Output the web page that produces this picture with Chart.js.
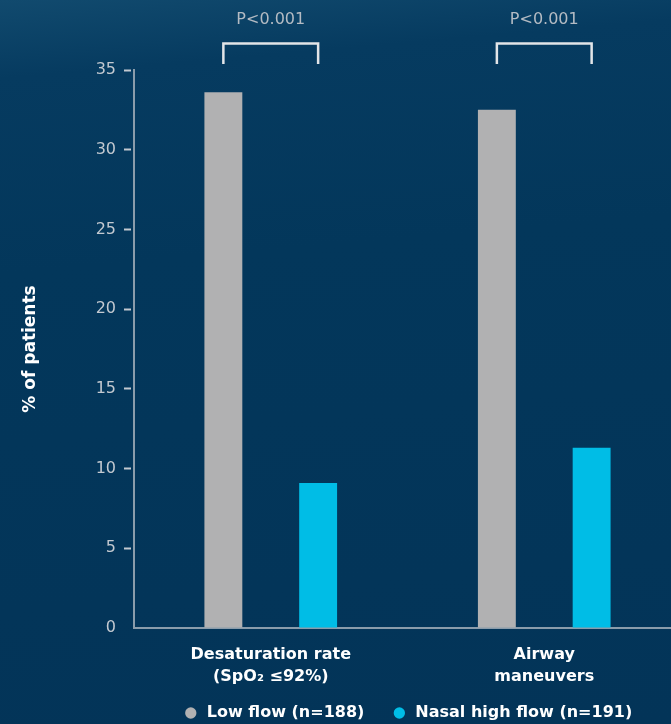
<!DOCTYPE html>
<html>
<head>
  <title>% of patients</title>
  <script src="https://cdn.jsdelivr.net/npm/chart.js"></script>
  <style>
    body {
      margin: 0;
      overflow: hidden;
      background: linear-gradient(175deg, #114a6e 0%, #063b60 10%, #03375b 35%, #033458 100%);
    }
    .chart-box {
      position: relative;
      width: 690px;
      height: 724px;
    }
  </style>
</head>
<body>
  <div class="chart-box">
    <canvas id="outcomeChart"></canvas>
  </div>
  <script>
    // categories and values (% of patients)
    var categories = [['Desaturation rate', '(SpO\u2082 \u226492%)'], ['Airway', 'maneuvers']];
    var seriesNames = ['Low flow (n=188)', 'Nasal high flow (n=191)'];
    var lowFlow = [33.6, 32.5];
    var nasalHighFlow = [9.1, 11.3];
    var pValues = ['P<0.001', 'P<0.001'];
    var yMax = 35;
    var yStep = 5;

    Chart.defaults.font.family = "'DejaVu Sans', sans-serif";

    // bracket + p value above each pair of bars
    var pBrackets = {
      id: 'pBrackets',
      afterDatasetsDraw: function(chart) {
        var ctx = chart.ctx;
        var top = chart.chartArea.top;
        var a = chart.getDatasetMeta(0).data;
        var b = chart.getDatasetMeta(1).data;
        ctx.save();
        pValues.forEach(function(p, i) {
          var x1 = a[i].x, x2 = b[i].x;
          ctx.strokeStyle = '#e2e5e8';
          ctx.lineWidth = 2.5;
          ctx.beginPath();
          ctx.moveTo(x1, top - 6);
          ctx.lineTo(x1, top - 26.5);
          ctx.lineTo(x2, top - 26.5);
          ctx.lineTo(x2, top - 6);
          ctx.stroke();
          ctx.fillStyle = '#b4bbc3';
          ctx.font = "16px 'DejaVu Sans', sans-serif";
          ctx.textAlign = 'center';
          ctx.textBaseline = 'middle';
          ctx.fillText(p, (x1 + x2) / 2, top - 50);
        });
        ctx.restore();
      }
    };

    // keep the legend centred under the plot area
    var legendPlace = {
      id: 'legendPlace',
      afterLayout: function(chart) {
        var lg = chart.legend, area = chart.chartArea;
        var dx = (area.left + area.right) / 2 - (lg.left + lg.right) / 2;
        lg.left += dx;
        lg.right += dx;
        lg.top = chart.height - 46;
        lg.bottom = chart.height;
      }
    };

    var ctx = document.getElementById('outcomeChart').getContext('2d');
    var outcomeChart = new Chart(ctx, {
      type: 'bar',
      data: {
        labels: categories,
        datasets: [{
          label: seriesNames[0],
          data: lowFlow,
          backgroundColor: '#b1b1b2',
          borderWidth: 0,
          barPercentage: 0.4,
          categoryPercentage: 0.693
        }, {
          label: seriesNames[1],
          data: nasalHighFlow,
          backgroundColor: '#00bde6',
          borderWidth: 0,
          barPercentage: 0.4,
          categoryPercentage: 0.693
        }]
      },
      options: {
        responsive: true,
        maintainAspectRatio: false,
        animation: false,
        events: [],
        layout: {
          padding: { top: 70, right: 9, left: 0, bottom: 0 }
        },
        scales: {
          x: {
            grid: { display: false, drawTicks: false, tickLength: 0 },
            border: { color: '#8a9cab', width: 2 },
            ticks: {
              color: '#ffffff',
              padding: 16,
              font: { size: 16, weight: 'bold', lineHeight: '22px' }
            },
            afterFit: function(scale) { scale.height = 62; }
          },
          y: {
            min: 0,
            max: yMax,
            grid: {
              drawOnChartArea: false,
              tickLength: 10,
              tickWidth: 2,
              tickBorderDash: [7, 3],
              tickColor: function(c) { return c.tick.value === 0 ? 'rgba(0,0,0,0)' : '#c3c9d0'; }
            },
            border: { color: '#8a9cab', width: 2 },
            ticks: {
              stepSize: yStep,
              color: '#c3c9d0',
              padding: 8,
              font: { size: 16 }
            },
            title: {
              display: true,
              text: '% of patients',
              color: '#ffffff',
              padding: { top: 20, bottom: 0 },
              font: { size: 17, weight: 'bold' }
            },
            afterFit: function(scale) { scale.width = 134; }
          }
        },
        plugins: {
          tooltip: { enabled: false },
          legend: {
            position: 'bottom',
            maxHeight: 34,
            labels: {
              color: '#ffffff',
              usePointStyle: true,
              pointStyle: 'circle',
              boxWidth: 16,
              boxHeight: 8,
              padding: 27,
              font: { size: 16, weight: 'bold' }
            }
          }
        }
      },
      plugins: [pBrackets, legendPlace]
    });
  </script>
</body>
</html>
